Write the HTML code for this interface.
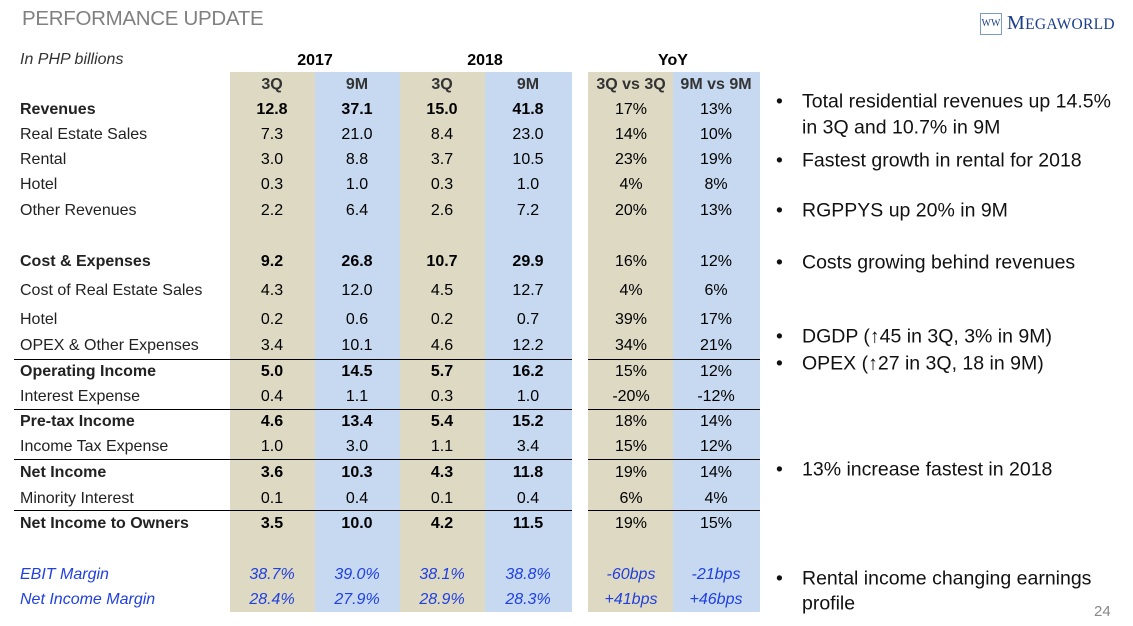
<!DOCTYPE html>
<html><head><meta charset="utf-8">
<style>
body{margin:0;width:1133px;height:626px;background:#fff;position:relative;overflow:hidden;font-family:"Liberation Sans",sans-serif;color:#000}
.a{position:absolute;white-space:nowrap}
.col{position:absolute;top:72px;height:540px}
.tan{background:#ddd9c3}.blu{background:#c6d9f0}
.c{position:absolute;text-align:center;font-size:16px;transform:translateY(-50%)}
.l{position:absolute;left:20px;font-size:16px;transform:translateY(-50%);color:#222}
.b{font-weight:bold}
.hl{position:absolute;height:1px;background:#000}
.bl{position:absolute;font-size:19.5px;color:#111;transform:translateY(-50%);white-space:nowrap}
.it{font-style:italic;color:#2040e0}
</style></head><body>
<div class="a" style="left:22px;top:7px;font-size:20.5px;color:#808080;letter-spacing:-0.3px">PERFORMANCE UPDATE</div>
<div class="a" style="left:980px;top:12px;display:flex;align-items:center">
 <div style="width:20px;height:20px;border:1px solid #7a9ac8;font-size:10px;color:#1a3e8c;text-align:center;line-height:20px;font-family:'Liberation Serif',serif">WW</div>
 <span style="font-family:'Liberation Serif',serif;color:#1a3e8c;font-size:20px;margin-left:5px;letter-spacing:0.3px">M<span style="font-size:15.5px">EGAWORLD</span></span>
</div>
<div class="a" style="left:20px;top:51px;font-size:16px;font-style:italic;color:#333">In PHP billions</div>
<div class="col tan" style="left:230px;width:85px"></div>
<div class="col blu" style="left:315px;width:85px"></div>
<div class="col tan" style="left:400px;width:85px"></div>
<div class="col blu" style="left:485px;width:87px"></div>
<div class="col tan" style="left:588px;width:85px"></div>
<div class="col blu" style="left:673px;width:87px"></div>
<div id="t"></div>
<div class="a" style="left:1094px;top:603px;font-size:15px;color:#888">24</div>
<script>
const colX=[272,357,442,528,631,716];
const headers=[["2017",315,61],["2018",485,61],["YoY",673,61]];
const subHeads=["3Q","9M","3Q","9M","3Q vs 3Q","9M vs 9M"];
const labels=["Revenues","Real Estate Sales","Rental","Hotel","Other Revenues","Cost & Expenses","Cost of Real Estate Sales","Hotel","OPEX & Other Expenses","Operating Income","Interest Expense","Pre-tax Income","Income Tax Expense","Net Income","Minority Interest","Net Income to Owners","EBIT Margin","Net Income Margin"];
const rowY=[110,135,160,185,211,262,291,320,346,372,397,422,447,473,499,524,575,600];
const bold=[1,0,0,0,0,1,0,0,0,1,0,1,0,1,0,1,0,0];
const vals=[["12.8","37.1","15.0","41.8","17%","13%"],["7.3","21.0","8.4","23.0","14%","10%"],["3.0","8.8","3.7","10.5","23%","19%"],["0.3","1.0","0.3","1.0","4%","8%"],["2.2","6.4","2.6","7.2","20%","13%"],["9.2","26.8","10.7","29.9","16%","12%"],["4.3","12.0","4.5","12.7","4%","6%"],["0.2","0.6","0.2","0.7","39%","17%"],["3.4","10.1","4.6","12.2","34%","21%"],["5.0","14.5","5.7","16.2","15%","12%"],["0.4","1.1","0.3","1.0","-20%","-12%"],["4.6","13.4","5.4","15.2","18%","14%"],["1.0","3.0","1.1","3.4","15%","12%"],["3.6","10.3","4.3","11.8","19%","14%"],["0.1","0.4","0.1","0.4","6%","4%"],["3.5","10.0","4.2","11.5","19%","15%"],["38.7%","39.0%","38.1%","38.8%","-60bps","-21bps"],["28.4%","27.9%","28.9%","28.3%","+41bps","+46bps"]];
const lineY=[359,409,459,510];
const bullets=[["Total residential revenues up 14.5%",102],["in 3Q and 10.7% in 9M",128,1],["Fastest growth in rental for 2018",161],["RGPPYS up 20% in 9M",211],["Costs growing behind revenues",263],["DGDP (\u219145 in 3Q, 3% in 9M)",337],["OPEX (\u219127 in 3Q, 18 in 9M)",364],["13% increase fastest in 2018",470],["Rental income changing earnings",579],["profile",604,1]];
const t=document.getElementById('t');
function mk(cls,html,style){const d=document.createElement('div');d.className=cls;d.innerHTML=html;d.style.cssText=style;t.appendChild(d);return d;}
headers.forEach(h=>{const d=mk('c b',h[0],`left:${h[1]-50}px;width:100px;top:${h[2]}px`);

});
subHeads.forEach((s,i)=>{const d=mk('c b',s,`left:${colX[i]-45}px;width:90px;top:85px;color:#333`);

});
labels.forEach((lb,r)=>{const it=r>=16;
const d=mk('l'+(bold[r]?' b':'')+(it?' it':''),lb.replace('&','&amp;'),`top:${rowY[r]}px`);


vals[r].forEach((v,i)=>{const e=mk('c'+(bold[r]&&i<4?' b':'')+(it?' it':''),v,`left:${colX[i]-45}px;width:90px;top:${rowY[r]}px`);

});});
lineY.forEach(y=>{const a=mk('hl','',`left:14px;width:558px;top:${y}px`);


const b=mk('hl','',`left:588px;width:172px;top:${y}px`);

});
bullets.forEach(b=>{const d=mk('bl',(b[2]?'':'<span style="position:absolute;left:-26px">\u2022</span>')+b[0],`left:802px;top:${b[1]}px`);

});
</script>
</body></html>
